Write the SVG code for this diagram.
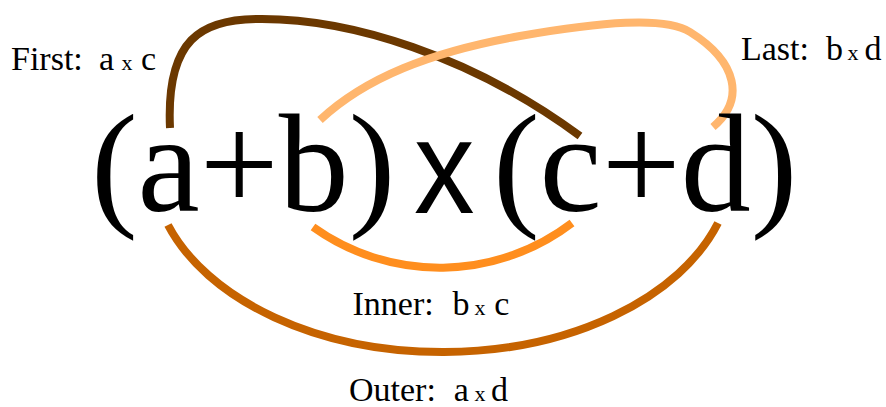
<svg xmlns="http://www.w3.org/2000/svg" width="886" height="407" viewBox="0 0 886 407">
<style>
.lbl{font-family:"Liberation Serif","Times New Roman",serif;font-size:34px;fill:#000}
.sx{font-size:22px}
.big{font-family:"Liberation Serif","Times New Roman",serif;font-size:140px;fill:#000}
.bigx{font-family:"Liberation Sans",Arial,sans-serif;font-size:133px;fill:#000}
.arc{fill:none;stroke-width:8;stroke-linecap:butt}
</style>
<rect width="886" height="407" fill="#fff"/>
<g id="connectors">
<path id="first" class="arc" stroke="#6B3800" d="M 170 128 C 166 40, 200 18, 262 19 C 350 19, 470 55, 580 136"/>
<path id="last" class="arc" stroke="#FFB66E" d="M 320 120 C 365 78, 430 52, 520 36 C 600 22, 665 16, 690 32 C 738 62, 745 100, 713 127"/>
<path id="inner" class="arc" stroke="#FF8E1E" d="M 313 227 A 218 218 0 0 0 572 223"/>
<path id="outer" class="arc" stroke="#C66300" d="M 168 225 A 290 187.5 0 0 0 718 223"/>
</g>
<g id="expression">
<text class="big" x="91" y="211">(a+b)</text>
<text class="bigx" transform="matrix(0.91 0 0 1 414 213)" x="0" y="0">x</text>
<text class="big" x="493" y="211">(c+d)</text>
</g>
<g id="label-first"><text class="lbl" y="70"><tspan x="11">First:</tspan><tspan x="99">a</tspan><tspan class="sx" x="121.5">x</tspan><tspan x="141">c</tspan></text></g>
<g id="label-last"><text class="lbl" y="60"><tspan x="741">Last:</tspan><tspan x="826">b</tspan><tspan class="sx" x="847.6">x</tspan><tspan x="864.5">d</tspan></text></g>
<g id="label-inner"><text class="lbl" y="315"><tspan x="352.5">Inner:</tspan><tspan x="452.6">b</tspan><tspan class="sx" x="474.6">x</tspan><tspan x="494.2">c</tspan></text></g>
<g id="label-outer"><text class="lbl" y="401"><tspan x="349">Outer:</tspan><tspan x="453.7">a</tspan><tspan class="sx" x="474.6">x</tspan><tspan x="491">d</tspan></text></g>
</svg>
